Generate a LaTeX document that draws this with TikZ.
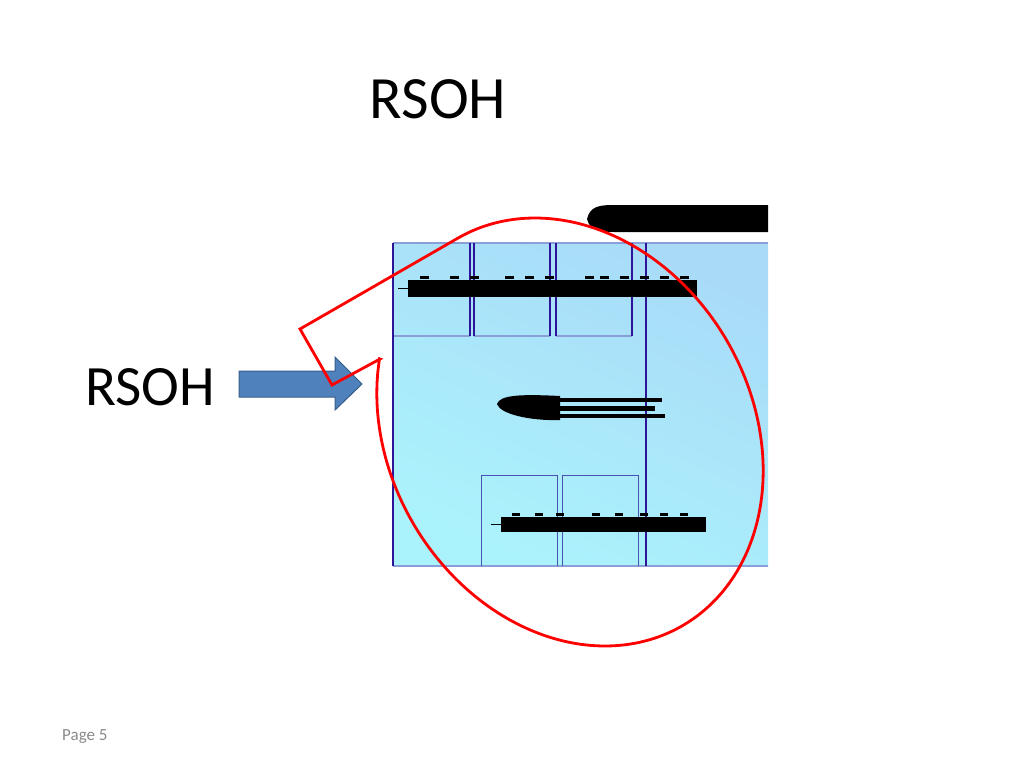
\documentclass[tikz,border=0pt]{standalone}
\usepackage{fontspec}
\setmainfont{Carlito}
\usepackage{tikz}
\usetikzlibrary{positioning}
\definecolor{boxtop}{HTML}{A9DBF8}
\definecolor{boxbot}{HTML}{ABF3FC}
\definecolor{edgedark}{HTML}{2E1496}
\definecolor{edgelight}{HTML}{8A9ED8}
\definecolor{cellline}{HTML}{4A52B4}
\definecolor{arrowfill}{HTML}{4F81BD}
\definecolor{arrowline}{HTML}{385D8A}
\definecolor{pagegray}{HTML}{8A8A8A}
\tikzstyle{bigtext}=[font=\fontsize{60}{70}\selectfont, inner sep=0]
\tikzstyle{darkedge}=[edgedark, line width=1.6pt]
\tikzstyle{lightedge}=[edgelight, line width=1.2pt]
\tikzstyle{lowcell}=[cellline, line width=0.9pt]
\tikzstyle{callout}=[red, line width=2.8pt, line join=miter]

\begin{document}
\begin{tikzpicture}[x=1pt,y=-1pt]
        \useasboundingbox (0,0) rectangle (1024,768);
        \node[bigtext, anchor=base] (title) at (438,118) {RSOH};
        \node[bigtext, anchor=base west, font=\fontsize{57}{68}\selectfont] (input) at (85,405) {RSOH};
        \node[anchor=base west, inner sep=0, text=pagegray, font=\fontsize{17}{20}\selectfont] (page) at (62,740) {Page 5};
        % frame
        \shade[top color=boxtop, bottom color=boxbot, shading angle=-25] (393,243) rectangle (768,566);
        \draw[lightedge] (393,243) -- (768,243);
        \draw[lightedge] (393,566) -- (768,566);
        \foreach \a/\b in {393/470, 474/550, 556/632} {
            \draw[lightedge] (\a,336) -- (\b,336);
            \draw[darkedge] (\a,243) -- (\a,336);
            \draw[darkedge] (\b,243) -- (\b,336);
        }
        \draw[darkedge] (393,243) -- (393,566);
        \draw[darkedge] (646,243) -- (646,566);
        \foreach \a/\b in {481/557, 562/638}
            \draw[lowcell] (\a,566) -- (\a,475) -- (\b,475) -- (\b,566);
        % smeared labels
        \fill (587,219) .. controls (590,206) and (600,205) .. (614,205) -- (768,205) -- (768,232) -- (614,232) .. controls (600,232) and (590,231) .. (587,219);
        \fill (408,280) rectangle (697,297);
        \draw[line width=1pt] (398,288) -- (408,288);
        \foreach \x in {420,450,470,505,525,545,585,600,620,640,660,680}
            \fill (\x,276) rectangle ++(9,2.5);
        \fill (497,404) .. controls (500,395) and (520,394) .. (560,396) -- (560,420) .. controls (530,421) and (500,414) .. (497,404);
        \fill (560,398) rectangle (662,402);
        \fill (560,406) rectangle (655,411);
        \fill (560,414) rectangle (665,418);
        \fill (501,517) rectangle (706,532);
        \draw[line width=1pt] (491,524) -- (501,524);
        \foreach \x in {512,535,556,592,615,640,660,680}
            \fill (\x,513) rectangle ++(8,2.5);
        % arrow
        \draw[arrowline, fill=arrowfill, line width=1pt] (239,371) -- (335,371) -- (335,357) -- (362,384) -- (335,410) -- (335,397) -- (239,397) -- cycle;
        % callout
        \draw[callout] (380,359) -- (332,385) -- (300,329) -- plot[domain=-114:200, samples=90, smooth] ({570+190*cos(\x)+35*sin(\x)},{432+214*sin(\x)}) -- cycle;
    \end{tikzpicture}
\end{document}
